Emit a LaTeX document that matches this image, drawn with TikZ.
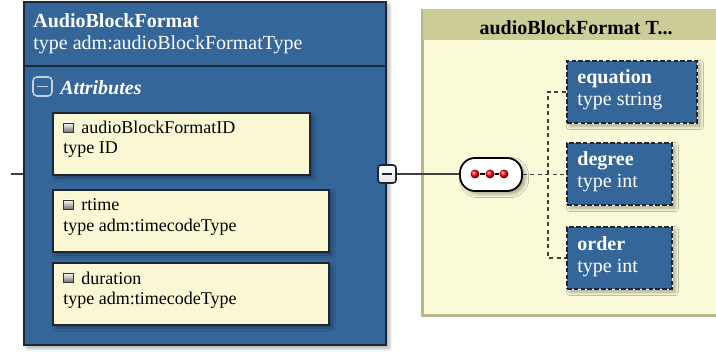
\documentclass[tikz,border=0pt]{standalone}
\usepackage{fontspec}
\setmainfont{Liberation Serif}
\usetikzlibrary{fit,shadows.blur}
\definecolor{blu}{RGB}{52,102,153}
\definecolor{bdr}{RGB}{30,38,50}
\definecolor{pale}{RGB}{250,248,212}
\definecolor{cream}{RGB}{250,249,216}
\definecolor{khaki}{RGB}{204,204,153}
\begin{document}
\begin{tikzpicture}[x=0.5pt,y=-0.5pt,
	shd/.style={blur shadow={shadow xshift=1.5pt,shadow yshift=-1.5pt,shadow blur steps=4,shadow opacity=35}},
	big/.style={inner sep=0,draw=bdr,line width=1pt,fill=blu,shd},
	attr/.style={inner sep=0,draw=bdr,line width=1pt,fill=pale,shd},
	elem/.style={inner sep=0,draw=bdr,line width=1.2pt,dash pattern=on 2.3pt off 1.1pt,fill=blu,shd,
		preaction={draw=white!90!yellow,solid,line width=1.2pt}},
	tx/.style={inner sep=0,anchor=base west,font=\fontsize{10}{12}\selectfont},
	sm/.style={tx,font=\fontsize{9}{11}\selectfont},
	ln/.style={draw=black!75,line width=.8pt},
	dl/.style={draw=black!75,line width=.9pt,dash pattern=on 2pt off 1.7pt}]
	\clip (0,0) rectangle (716,352);
	% type container
	\node[inner sep=0,fit={(423,10)(730,315)},fill=cream,draw=khaki!90!black,line width=.8pt] (ct) {};
	\fill[khaki] (ct.north west) rectangle (730,40);
	\draw[khaki!90!black,line width=.8pt] (ct.north west) -| (ct.south west) -- (ct.south east);
	\node[tx,anchor=base,font=\fontsize{10}{12}\selectfont\bfseries] (cth) at (576,35) {audioBlockFormat T...};
	% element box
	\node[big,fit={(24,2)(386,345)}] (abf) {};
	\draw[bdr,line width=1pt] (abf.north west |- 0,66) -- (abf.north east |- 0,66);
	\node[tx,text=white,font=\fontsize{10}{12}\selectfont\bfseries] (abfn) at (33,28) {AudioBlockFormat};
	\node[tx,text=white] (abft) at (33,50) {type adm:audioBlockFormatType};
	\draw[white!70!blu,line width=.8pt,rounded corners=2pt] (33,77) rectangle (52,96);
	\draw[white!70!blu,line width=.9pt] (37,86.5) -- (48,86.5);
	\node[tx,text=white,font=\fontsize{10}{12}\selectfont\bfseries\itshape] (atts) at (60,95) {Attributes};
	\foreach \y/\w/\n/\t [count=\i] in {113/310/audioBlockFormatID/ID,190/329/rtime/adm:timecodeType,263/329/duration/adm:timecodeType}{
		\node[attr,fit={(53,\y)(\w,\y+62)}] (at\i) {};
		\shade[top color=white,bottom color=black!55,draw=black!80,line width=.4pt] (63,\y+10) rectangle (73,\y+19);
		\node[sm] (an\i) at (81,\y+21) {\n};
		\node[sm] (aty\i) at (63,\y+41) {type \t};
	}
	\coordinate (lft) at (11,174);
	\draw[ln] (lft) -- (lft -| abf.west);
	% sequence
	\node[inner sep=0,minimum size=9pt,rounded corners=1.5pt,draw=bdr,line width=.8pt,top color=white,bottom color=black!10] (mb) at (387,174) {};
	\draw[bdr,line width=1pt] ([xshift=-2.5pt]mb.center) -- ([xshift=2.5pt]mb.center);
	\node[inner sep=0,fit={(460,158)(522,191)},rounded corners=7.5pt,draw=black,line width=.9pt,fill=white,shd] (seq) {};
	\draw[ln] (mb.east) -- (mb.east -| seq.west);
	\foreach \x [count=\i] in {475,490,504}
		\node[circle,inner sep=0,minimum size=4.5pt,ball color=red] (d\i) at (\x,174) {};
	\draw[black,line width=.7pt] (d1) -- (d2) (d2) -- (d3);
	\foreach \y/\w/\n/\t/\k in {61/697/equation/string/eq,143/672/degree/int/dg,227/672/order/int/od}{
		\node[elem,fit={(567,\y)(\w,\y+62)}] (\k) {};
		\node[tx,text=white,font=\fontsize{10}{12}\selectfont\bfseries] (\k n) at (577,\y+23) {\n};
		\node[tx,text=white] (\k t) at (577,\y+45) {type \t};
	}
	\coordinate (tr) at (548,174);
	\draw[dl] (seq.east) -- (seq.east -| dg.west);
	\draw[dl] (eq.west) -| (tr |- od.west) -- (od.west);
\end{tikzpicture}
\end{document}
